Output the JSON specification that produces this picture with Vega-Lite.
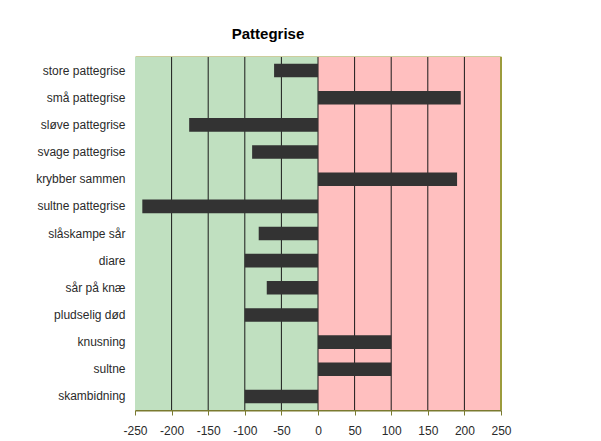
{
  "$schema": "https://vega.github.io/schema/vega-lite/v6.json",
  "width": 366,
  "height": 353,
  "autosize": "none",
  "padding": {"left": 135, "top": 57, "right": 100, "bottom": 31},
  "background": "white",
  "title": {"text": "Pattegrise", "font": "Liberation Sans", "fontSize": 15, "fontWeight": "bold", "color": "#000000", "anchor": "middle", "dx": -50, "offset": 14},
  "config": {"view": {"stroke": null}, "font": "Liberation Sans"},
  "datasets": {
    "zones": [
      {"start": -250, "end": 0, "side": "neg"},
      {"start": 0, "end": 250, "side": "pos"}
    ],
    "grid": [
      {"v": -200}, {"v": -150}, {"v": -100}, {"v": -50}, {"v": 0},
      {"v": 50}, {"v": 100}, {"v": 150}, {"v": 200}
    ],
    "edge": [{"v": 250}],
    "bars": [
      {"label": "store pattegrise", "value": -60},
      {"label": "små pattegrise", "value": 195},
      {"label": "sløve pattegrise", "value": -176},
      {"label": "svage pattegrise", "value": -90},
      {"label": "krybber sammen", "value": 190},
      {"label": "sultne pattegrise", "value": -240},
      {"label": "slåskampe sår", "value": -81},
      {"label": "diare", "value": -100},
      {"label": "sår på knæ", "value": -70},
      {"label": "pludselig død", "value": -100},
      {"label": "knusning", "value": 100},
      {"label": "sultne ", "value": 100},
      {"label": "skambidning", "value": -100}
    ]
  },
  "resolve": {"axis": {"x": "independent"}},
  "layer": [
    {
      "data": {"name": "zones"},
      "mark": {"type": "rect"},
      "encoding": {
        "x": {"field": "start", "type": "quantitative", "scale": {"domain": [-250, 250], "nice": false, "zero": false}, "axis": null},
        "x2": {"field": "end"},
        "color": {"field": "side", "type": "nominal", "scale": {"domain": ["neg", "pos"], "range": ["#c0e0c0", "#ffbfbf"]}, "legend": null}
      }
    },
    {
      "data": {"name": "grid"},
      "mark": {"type": "rule", "color": "#1a1a1a", "strokeWidth": 1},
      "encoding": {
        "x": {"field": "v", "type": "quantitative", "axis": null}
      }
    },
    {
      "data": {"name": "bars"},
      "mark": {"type": "bar", "color": "#333333"},
      "encoding": {
        "y": {
          "field": "label", "type": "nominal", "sort": null,
          "scale": {"paddingInner": 0.5, "paddingOuter": 0.25},
          "axis": {"title": null, "domain": false, "ticks": false, "tickSize": 0, "labelPadding": 10, "labelFontSize": 12, "labelColor": "#2a2a2a", "labelFont": "Liberation Sans"}
        },
        "x": {
          "field": "value", "type": "quantitative",
          "axis": {"title": null, "grid": false, "values": [-250, -200, -150, -100, -50, 0, 50, 100, 150, 200, 250], "labelExpr": "datum.value + ''", "domainColor": "#7a7a30", "domainWidth": 2, "tickColor": "#7a7a30", "tickSize": 5, "labelPadding": 10, "labelFontSize": 12, "labelColor": "#2a2a2a", "labelFont": "Liberation Sans", "labelFlush": false}
        }
      }
    },
    {
      "data": {"name": "edge"},
      "mark": {"type": "rule", "color": "#9c9c3c", "strokeWidth": 2},
      "encoding": {
        "x": {
          "field": "v", "type": "quantitative",
          "axis": {"orient": "top", "title": null, "grid": false, "labels": false, "ticks": false, "domainColor": "#9c9c3c", "domainWidth": 2}
        }
      }
    }
  ]
}
